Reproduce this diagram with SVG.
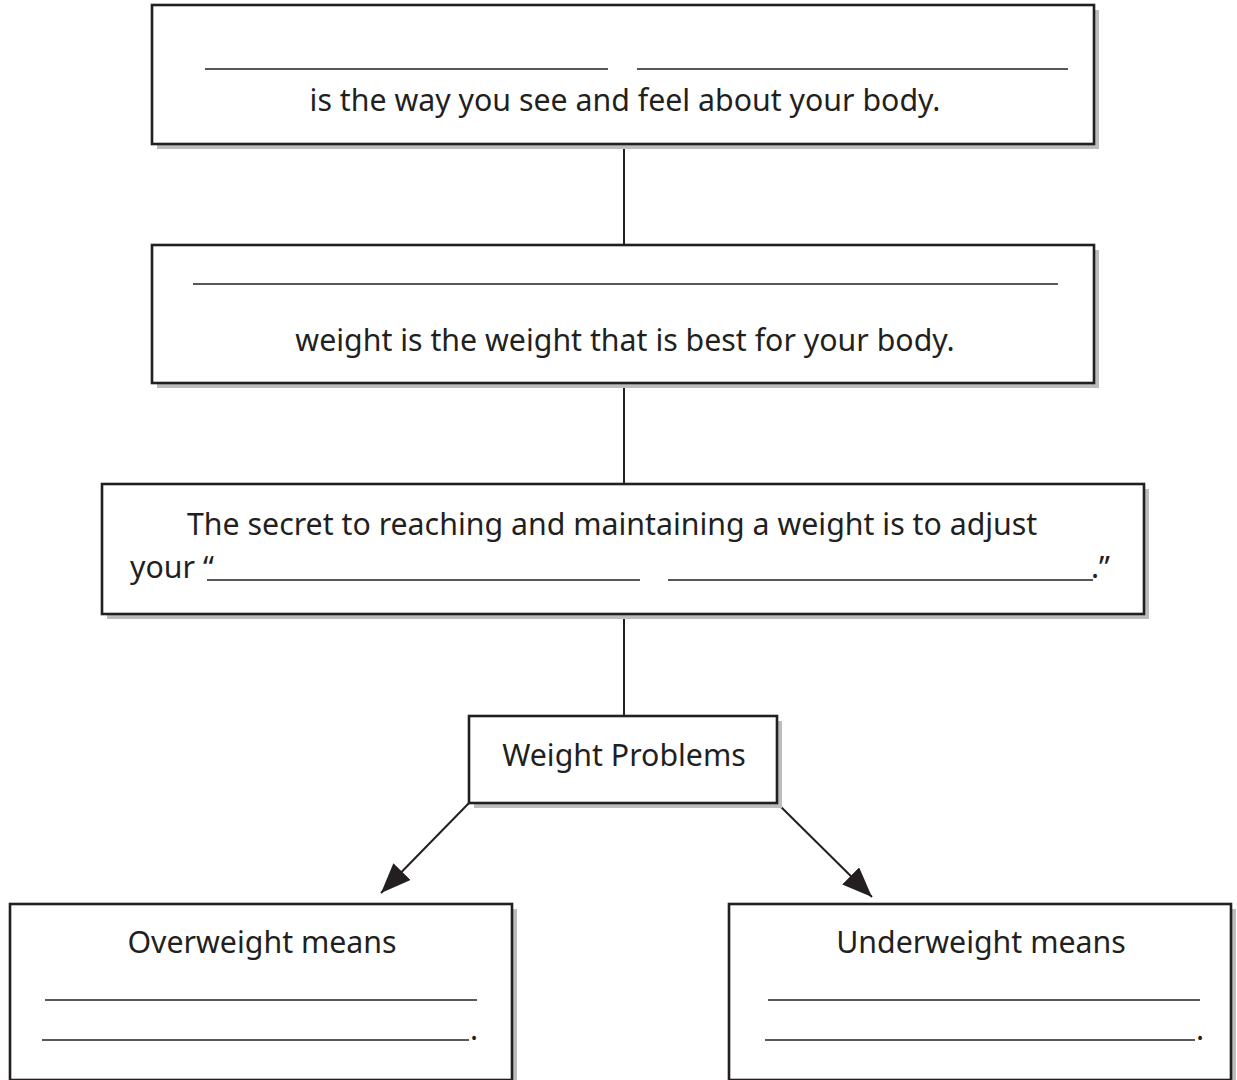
<svg xmlns="http://www.w3.org/2000/svg" width="1237" height="1080" viewBox="0 0 1237 1080">
  <defs>
    <style>
      .shadow { fill: #bdbdbd; }
      .box { fill: #ffffff; stroke: #231f20; stroke-width: 2.6; }
      .blank { stroke: #231f20; stroke-width: 1.6; }
      .link { stroke: #231f20; stroke-width: 2; fill: none; }
      .t { font-family: "Noto Sans", "Open Sans", sans-serif; font-size: 30.3px; fill: #231f20; }
      .c { text-anchor: middle; }
    </style>
    <marker id="head" viewBox="0 0 30 24" refX="30" refY="12" markerWidth="30" markerHeight="24" markerUnits="userSpaceOnUse" orient="auto">
      <path d="M0,0 L30,12 L0,24 z" fill="#231f20"/>
    </marker>
  </defs>

  <!-- connectors -->
  <g id="connectors">
    <line class="link" x1="624" y1="144" x2="624" y2="245"/>
    <line class="link" x1="624" y1="383" x2="624" y2="484"/>
    <line class="link" x1="624" y1="614" x2="624" y2="716"/>
    <line class="link" x1="469" y1="803" x2="381" y2="893" marker-end="url(#head)"/>
    <line class="link" x1="777" y1="803" x2="872" y2="897" marker-end="url(#head)"/>
  </g>

  <!-- body image definition -->
  <g id="body-image">
    <rect class="shadow" x="157" y="10" width="942" height="139"/>
    <rect class="box" x="152" y="5" width="942" height="139"/>
    <line class="blank" x1="205" y1="69" x2="608" y2="69"/>
    <line class="blank" x1="637" y1="69" x2="1068" y2="69"/>
    <text class="t c" x="625" y="111">is the way you see and feel about your body.</text>
  </g>

  <!-- healthy weight definition -->
  <g id="healthy-weight">
    <rect class="shadow" x="157" y="250" width="942" height="138"/>
    <rect class="box" x="152" y="245" width="942" height="138"/>
    <line class="blank" x1="193" y1="284" x2="1058" y2="284"/>
    <text class="t c" x="625" y="351">weight is the weight that is best for your body.</text>
  </g>

  <!-- energy balance -->
  <g id="energy-balance">
    <rect class="shadow" x="107" y="489" width="1042" height="130"/>
    <rect class="box" x="102" y="484" width="1042" height="130"/>
    <text class="t" x="187" y="535">The secret to reaching and maintaining a weight is to adjust</text>
    <text class="t" x="130" y="578">your “</text>
    <line class="blank" x1="207" y1="580" x2="640" y2="580"/>
    <line class="blank" x1="668" y1="580" x2="1093" y2="580"/>
    <text class="t" x="1091" y="578">.”</text>
  </g>

  <!-- weight problems -->
  <g id="weight-problems">
    <rect class="shadow" x="474" y="721" width="308" height="87"/>
    <rect class="box" x="469" y="716" width="308" height="87"/>
    <text class="t c" x="624" y="766">Weight Problems</text>
  </g>

  <!-- overweight -->
  <g id="overweight">
    <rect class="shadow" x="15" y="909" width="502" height="176"/>
    <rect class="box" x="10" y="904" width="502" height="176"/>
    <text class="t c" x="262" y="953">Overweight means</text>
    <line class="blank" x1="45" y1="1000" x2="477" y2="1000"/>
    <line class="blank" x1="42" y1="1040" x2="469" y2="1040"/>
    <text class="t" x="470" y="1040">.</text>
  </g>

  <!-- underweight -->
  <g id="underweight">
    <rect class="shadow" x="734" y="909" width="502" height="176"/>
    <rect class="box" x="729" y="904" width="502" height="176"/>
    <text class="t c" x="981" y="953">Underweight means</text>
    <line class="blank" x1="768" y1="1000" x2="1200" y2="1000"/>
    <line class="blank" x1="765" y1="1040" x2="1195" y2="1040"/>
    <text class="t" x="1196" y="1040">.</text>
  </g>
</svg>
